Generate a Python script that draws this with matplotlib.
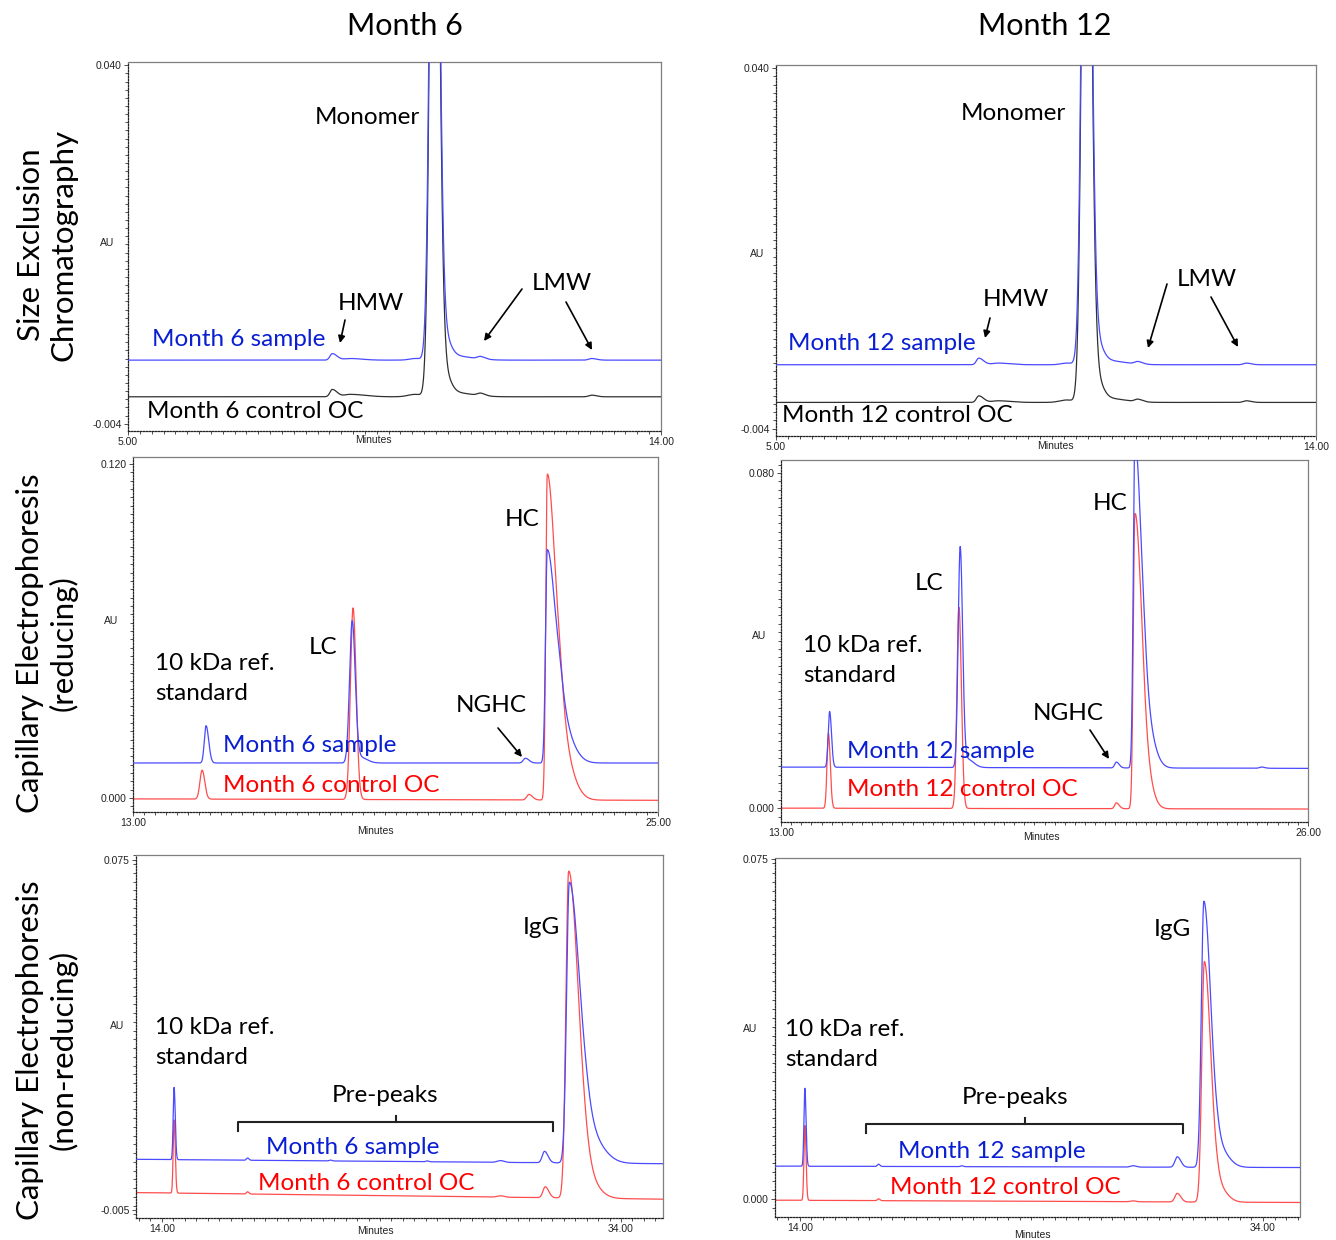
import numpy as np
import matplotlib
matplotlib.use("Agg")
import matplotlib.pyplot as plt
from matplotlib.ticker import MultipleLocator

plt.rcParams['font.family'] = ['Lato', 'DejaVu Sans']

W, H = 1336, 1240

# ---------------- data ----------------
# peaks: (centre [min], height [AU], sigma_left, sigma_right)
# SEC, Month 6
SEC6_SAMPLE_BASE = (0.0038, 0.0038)
SEC6_SAMPLE_PEAKS = [(8.45, 0.0008, 0.04, 0.08), (8.75, 0.0002, 0.10, 0.20),
                     (9.85, 0.0002, 0.10, 0.10), (10.17, 0.100, 0.065, 0.075),
                     (10.28, 0.004, 0.08, 0.12), (10.50, 0.0005, 0.10, 0.30),
                     (10.95, 0.0003, 0.05, 0.08), (12.83, 0.0002, 0.05, 0.08)]
SEC6_CONTROL_BASE = (-0.0007, -0.0007)
SEC6_CONTROL_PEAKS = [(8.45, 0.0009, 0.04, 0.08), (8.75, 0.0003, 0.10, 0.25),
                      (9.85, 0.0003, 0.12, 0.10), (10.17, 0.100, 0.065, 0.075),
                      (10.28, 0.004, 0.08, 0.12), (10.50, 0.0005, 0.10, 0.30),
                      (10.95, 0.0003, 0.05, 0.08), (12.83, 0.0002, 0.05, 0.08)]
# SEC, Month 12
SEC12_SAMPLE_BASE = (0.0038, 0.0038)
SEC12_SAMPLE_PEAKS = [(8.38, 0.0008, 0.04, 0.08), (8.70, 0.0002, 0.10, 0.20),
                      (9.85, 0.0002, 0.10, 0.10), (10.17, 0.100, 0.065, 0.075),
                      (10.28, 0.004, 0.08, 0.12), (10.50, 0.0005, 0.10, 0.30),
                      (11.03, 0.0003, 0.05, 0.08), (12.84, 0.0002, 0.05, 0.08)]
SEC12_CONTROL_BASE = (-0.0008, -0.0008)
SEC12_CONTROL_PEAKS = [(8.38, 0.0008, 0.04, 0.08), (8.70, 0.0002, 0.10, 0.20),
                       (9.85, 0.0003, 0.12, 0.10), (10.17, 0.100, 0.065, 0.075),
                       (10.28, 0.004, 0.08, 0.12), (10.50, 0.0005, 0.10, 0.30),
                       (11.03, 0.0003, 0.05, 0.08), (12.84, 0.0002, 0.05, 0.08)]
# CE reducing, Month 6
CER6_SAMPLE_BASE = (0.0126, 0.0126)
CER6_SAMPLE_PEAKS = [(14.67, 0.0134, 0.04, 0.06), (18.01, 0.051, 0.06, 0.07),
                     (18.20, 0.002, 0.08, 0.15), (21.97, 0.0017, 0.05, 0.08),
                     (22.47, 0.0766, 0.04, 0.20), (22.80, 0.012, 0.10, 0.25)]
CER6_CONTROL_BASE = (-0.0003, -0.0008)
CER6_CONTROL_PEAKS = [(14.58, 0.0104, 0.05, 0.06), (18.03, 0.0688, 0.06, 0.07),
                      (22.05, 0.0020, 0.05, 0.08), (22.47, 0.117, 0.035, 0.20),
                      (22.80, 0.016, 0.10, 0.25)]
# CE reducing, Month 12
CER12_SAMPLE_BASE = (0.0098, 0.0095)
CER12_SAMPLE_PEAKS = [(14.20, 0.0133, 0.035, 0.045), (17.42, 0.0526, 0.05, 0.06),
                      (17.60, 0.002, 0.08, 0.15), (21.27, 0.0014, 0.04, 0.07),
                      (21.73, 0.078, 0.04, 0.16), (22.00, 0.010, 0.10, 0.20),
                      (24.85, 0.0003, 0.05, 0.08)]
CER12_CONTROL_BASE = (0.0, -0.0002)
CER12_CONTROL_PEAKS = [(14.17, 0.0179, 0.035, 0.045), (17.39, 0.048, 0.05, 0.06),
                       (21.27, 0.0014, 0.04, 0.07), (21.73, 0.0695, 0.04, 0.15),
                       (21.95, 0.010, 0.10, 0.18)]
# CE non-reducing, Month 6
CENR6_SAMPLE_BASE = (0.0066, 0.0056)
CENR6_SAMPLE_PEAKS = [(14.53, 0.0165, 0.04, 0.05), (17.73, 0.0005, 0.05, 0.06),
                      (21.35, 0.0002, 0.06, 0.06), (25.56, 0.0002, 0.06, 0.06),
                      (28.76, 0.0004, 0.15, 0.15), (30.67, 0.0026, 0.10, 0.15),
                      (31.75, 0.064, 0.12, 0.45), (32.60, 0.006, 0.30, 0.60)]
CENR6_CONTROL_BASE = (-0.0010, -0.0025)
CENR6_CONTROL_PEAKS = [(14.53, 0.0167, 0.04, 0.05), (17.73, 0.0005, 0.05, 0.06),
                       (28.76, 0.0003, 0.15, 0.15), (30.70, 0.0025, 0.10, 0.15),
                       (31.72, 0.0745, 0.12, 0.42), (32.50, 0.004, 0.30, 0.50)]
# CE non-reducing, Month 12
CENR12_SAMPLE_BASE = (0.0073, 0.0070)
CENR12_SAMPLE_PEAKS = [(14.22, 0.0172, 0.04, 0.05), (17.40, 0.0005, 0.05, 0.06),
                       (21.00, 0.0002, 0.06, 0.06), (28.40, 0.0003, 0.12, 0.12),
                       (30.30, 0.0023, 0.10, 0.15), (31.45, 0.0586, 0.11, 0.30),
                       (32.10, 0.004, 0.20, 0.40)]
CENR12_CONTROL_BASE = (-0.0002, -0.0007)
CENR12_CONTROL_PEAKS = [(14.22, 0.0165, 0.04, 0.05), (17.40, 0.0004, 0.05, 0.06),
                        (28.40, 0.0002, 0.12, 0.12), (30.30, 0.0019, 0.10, 0.15),
                        (31.47, 0.053, 0.11, 0.28), (32.10, 0.003, 0.20, 0.35)]

# axis ranges and tick labels
SEC_XLIM, SEC_YLIM = (5.0, 14.0), (-0.0049, 0.0404)
SEC_YTICKS = [-0.004, 0.040]
CER6_XLIM, CER6_YLIM = (13.0, 25.0), (-0.005, 0.1225)
CER6_YTICKS = [0.000, 0.120]
CER12_XLIM, CER12_YLIM = (13.0, 26.0), (-0.0033, 0.0831)
CER12_YTICKS = [0.000, 0.080]
CENR6_XLIM, CENR6_YLIM = (12.87, 35.83), (-0.0068, 0.0761)
CENR6_YTICKS = [-0.005, 0.075]
CENR12_XLIM, CENR12_YLIM = (12.93, 35.6), (-0.0039, 0.0752)
CENR12_YTICKS = [0.000, 0.075]
CE_NR_XTICKS = [14.0, 34.0]

C_BLUE_LINE = '#4a4aff'
C_RED_LINE = '#ff4d4d'
C_BLACK_LINE = '#303030'
C_BLUE_TXT = '#0a1ed2'
C_RED_TXT = '#ff0000'


def trace(x, base, peaks):
    y = np.interp(x, [x[0], x[-1]], list(base))
    for c, h, sl, sr in peaks:
        s = np.where(x < c, sl, sr)
        y = y + h * np.exp(-0.5 * ((x - c) / s) ** 2)
    return y


fig = plt.figure(figsize=(W / 100, H / 100), dpi=100)


def add_ax(l, t, r, b):
    return fig.add_axes([l / W, 1 - b / H, (r - l) / W, (b - t) / H])


def style(ax, xlim, ylim, xticks, yticks, xminor, yminor):
    ax.set_xlim(*xlim)
    ax.set_ylim(*ylim)
    for s in ('top', 'right'):
        ax.spines[s].set_color('#7f7f7f')
        ax.spines[s].set_linewidth(0.9)
    for s in ('left', 'bottom'):
        ax.spines[s].set_color('#222222')
        ax.spines[s].set_linewidth(0.9)
        ax.spines[s].set_linestyle((0, (1.2, 1.2)))
    ax.set_xticks(xticks)
    ax.set_xticklabels(['%.2f' % v for v in xticks])
    ax.set_yticks(yticks)
    ax.set_yticklabels(['%.3f' % v for v in yticks])
    ax.xaxis.set_minor_locator(MultipleLocator(xminor))
    ax.yaxis.set_minor_locator(MultipleLocator(yminor))
    ax.tick_params(which='both', direction='out', width=0.6, color='#333333',
                   labelsize=7.5, pad=1.5)
    ax.tick_params(which='major', length=3)
    ax.tick_params(which='minor', length=2)
    for lab in ax.get_xticklabels() + ax.get_yticklabels():
        lab.set_fontfamily('Liberation Sans')
        lab.set_color('#222222')


def draw(ax, xlim, base_a, peaks_a, col_a, base_b, peaks_b, col_b):
    x = np.linspace(xlim[0], xlim[1], 4000)
    ax.plot(x, trace(x, base_b, peaks_b), color=col_b, lw=0.9, zorder=2)
    ax.plot(x, trace(x, base_a, peaks_a), color=col_a, lw=0.9, zorder=3)


# panels (pixel boxes)
ax1 = add_ax(128, 62, 661, 431)
draw(ax1, SEC_XLIM, SEC6_SAMPLE_BASE, SEC6_SAMPLE_PEAKS, C_BLUE_LINE,
     SEC6_CONTROL_BASE, SEC6_CONTROL_PEAKS, C_BLACK_LINE)
style(ax1, SEC_XLIM, SEC_YLIM, list(SEC_XLIM), SEC_YTICKS, 0.2, 0.001)

ax2 = add_ax(776, 65, 1316, 436)
draw(ax2, SEC_XLIM, SEC12_SAMPLE_BASE, SEC12_SAMPLE_PEAKS, C_BLUE_LINE,
     SEC12_CONTROL_BASE, SEC12_CONTROL_PEAKS, C_BLACK_LINE)
style(ax2, SEC_XLIM, SEC_YLIM, list(SEC_XLIM), SEC_YTICKS, 0.2, 0.001)

ax3 = add_ax(133, 457, 658, 812)
draw(ax3, CER6_XLIM, CER6_SAMPLE_BASE, CER6_SAMPLE_PEAKS, C_BLUE_LINE,
     CER6_CONTROL_BASE, CER6_CONTROL_PEAKS, C_RED_LINE)
style(ax3, CER6_XLIM, CER6_YLIM, list(CER6_XLIM), CER6_YTICKS, 0.25, 0.003)

ax4 = add_ax(781, 460, 1308, 822)
draw(ax4, CER12_XLIM, CER12_SAMPLE_BASE, CER12_SAMPLE_PEAKS, C_BLUE_LINE,
     CER12_CONTROL_BASE, CER12_CONTROL_PEAKS, C_RED_LINE)
style(ax4, CER12_XLIM, CER12_YLIM, list(CER12_XLIM), CER12_YTICKS, 0.25, 0.002)

ax5 = add_ax(136, 855, 663, 1218)
draw(ax5, CENR6_XLIM, CENR6_SAMPLE_BASE, CENR6_SAMPLE_PEAKS, C_BLUE_LINE,
     CENR6_CONTROL_BASE, CENR6_CONTROL_PEAKS, C_RED_LINE)
style(ax5, CENR6_XLIM, CENR6_YLIM, CE_NR_XTICKS, CENR6_YTICKS, 0.5, 0.002)

ax6 = add_ax(775, 858, 1300, 1217)
draw(ax6, CENR12_XLIM, CENR12_SAMPLE_BASE, CENR12_SAMPLE_PEAKS, C_BLUE_LINE,
     CENR12_CONTROL_BASE, CENR12_CONTROL_PEAKS, C_RED_LINE)
style(ax6, CENR12_XLIM, CENR12_YLIM, CE_NR_XTICKS, CENR12_YTICKS, 0.5, 0.002)

# ---------------- overlay for annotations (pixel coordinates) ----------------
ov = fig.add_axes([0, 0, 1, 1], zorder=10)
ov.set_xlim(0, W)
ov.set_ylim(H, 0)
ov.axis('off')
ov.patch.set_alpha(0)

BIG = 17.5


def t(x, y, s, size=BIG, color='black', ha='center', va='center', **kw):
    ov.text(x, y, s, fontsize=size, color=color, ha=ha, va=va, **kw)


def arrow(x0, y0, x1, y1):
    ov.annotate('', xy=(x1, y1), xytext=(x0, y0),
                arrowprops=dict(arrowstyle='-|>', color='black', lw=1.2,
                                mutation_scale=10, shrinkA=0, shrinkB=0))


def bracket(x0, x1, y, xm):
    ov.plot([x0, x0, x1, x1], [y + 9, y, y, y + 9], color='#222222', lw=1.5)
    ov.plot([xm, xm], [y, y - 6], color='#222222', lw=1.5)


def small(x, y, s):
    ov.text(x, y, s, fontsize=7.5, ha='center', va='center',
            family='Liberation Sans', color='#222222')


# column titles
t(405, 26, 'Month 6', size=22)
t(1045, 26, 'Month 12', size=22)
# row titles
t(47, 245, 'Size Exclusion\nChromatography', size=22.5, rotation=90,
  linespacing=1.2)
t(47, 643, 'Capillary Electrophoresis\n(reducing)', size=22.5, rotation=90,
  linespacing=1.2)
t(47, 1050, 'Capillary Electrophoresis\n(non-reducing)', size=22.5, rotation=90,
  linespacing=1.2)

# axis name labels
for (x, y) in [(107, 243), (757, 254), (111, 621), (759, 636), (117, 1026), (750, 1029)]:
    small(x, y, 'AU')
for (x, y) in [(373, 440), (1055, 446), (375, 831), (1041, 837), (375, 1231), (1032, 1235)]:
    small(x, y, 'Minutes')

# panel 1
t(367, 117, 'Monomer')
t(371, 303, 'HMW')
arrow(345, 320, 340, 343)
t(152, 339, 'Month 6 sample', color=C_BLUE_TXT, ha='left')
t(562, 283, 'LMW')
arrow(522, 289, 484, 341)
arrow(566, 302, 592, 350)
t(147, 412, 'Month 6 control OC', ha='left')

# panel 2
t(1013, 113, 'Monomer')
t(1016, 300, 'HMW')
arrow(990, 318, 985, 338)
t(788, 343, 'Month 12 sample', color=C_BLUE_TXT, ha='left')
t(1207, 280, 'LMW')
arrow(1167, 284, 1148, 348)
arrow(1211, 297, 1238, 347)
t(782, 416, 'Month 12 control OC', ha='left')

# panel 3
t(522, 520, 'HC')
t(323, 647, 'LC')
t(155, 663, '10 kDa ref.', ha='left')
t(155, 694, 'standard', ha='left')
t(491, 705, 'NGHC')
arrow(498, 728, 522, 757)
t(223, 746, 'Month 6 sample', color=C_BLUE_TXT, ha='left')
t(223, 785, 'Month 6 control OC', color=C_RED_TXT, ha='left')

# panel 4
t(1110, 504, 'HC')
t(929, 583, 'LC')
t(803, 645, '10 kDa ref.', ha='left')
t(803, 676, 'standard', ha='left')
t(1068, 714, 'NGHC')
arrow(1090, 730, 1109, 759)
t(847, 751, 'Month 12 sample', color=C_BLUE_TXT, ha='left')
t(847, 790, 'Month 12 control OC', color=C_RED_TXT, ha='left')

# panel 5
t(541, 927, 'IgG')
t(155, 1027, '10 kDa ref.', ha='left')
t(155, 1058, 'standard', ha='left')
t(385, 1096, 'Pre-peaks')
bracket(238, 553, 1122, 396)
t(353, 1148, 'Month 6 sample', color=C_BLUE_TXT)
t(366, 1184, 'Month 6 control OC', color=C_RED_TXT)

# panel 6
t(1172, 929, 'IgG')
t(785, 1029, '10 kDa ref.', ha='left')
t(785, 1060, 'standard', ha='left')
t(1015, 1098, 'Pre-peaks')
bracket(866, 1183, 1124, 1025)
t(992, 1152, 'Month 12 sample', color=C_BLUE_TXT)
t(1005, 1188, 'Month 12 control OC', color=C_RED_TXT)

fig.savefig('out.png', dpi=100)
